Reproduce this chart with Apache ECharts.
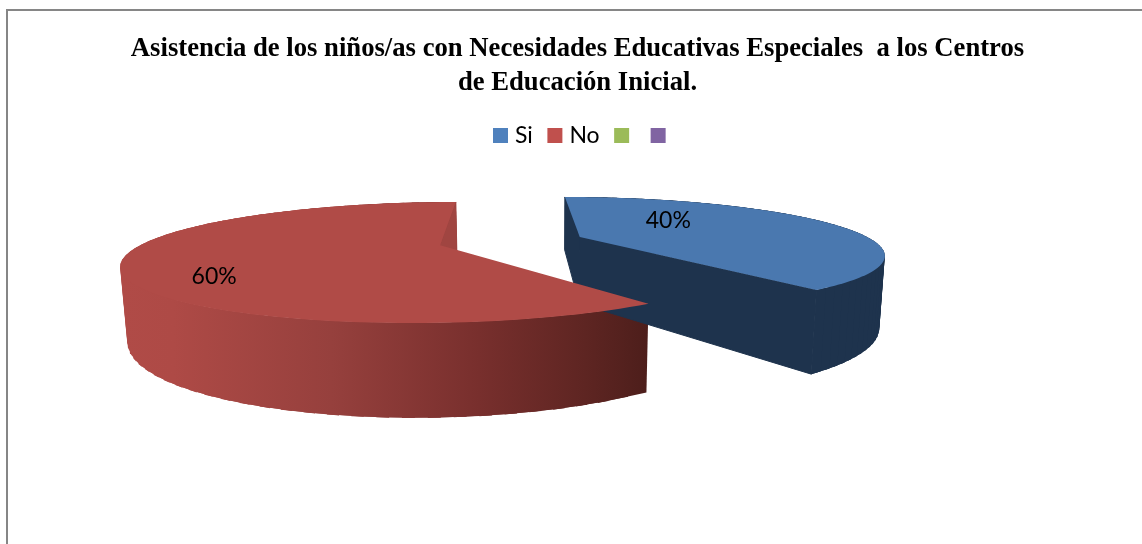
<!DOCTYPE html>
<html>
<head>
<meta charset="utf-8">
<style>html,body{margin:0;padding:0;background:#fff}#chart{width:1142px;height:544px}</style>
<script src="https://cdn.jsdelivr.net/npm/echarts@6/dist/echarts.min.js"></script>
</head>
<body>
<div id="chart"></div>
<script>
// Chart content
const chartTitle = 'Asistencia de los niños/as con Necesidades Educativas Especiales  a los Centros\nde Educación Inicial.';
const categories = ['Si', 'No', '\u200b', '\u200b\u200b'];
const values = [40, 60, 0, 0];
const valueLabels = ['40%', '60%', '', ''];

// Series styling
const legendColors = ['#4F81BD', '#C0504D', '#9BBB59', '#8064A2'];
const topColors = ['#4A78AF', '#B04B47', '#9BBB59', '#8064A2'];
const wallColors = ['#1E334D', '#A04541', '#5E7136', '#4D3C62'];
const redWallStops = [
  [0, '#B04B47'], [0.1, '#AE4A46'], [0.4, '#96403D'],
  [0.68, '#782F2D'], [0.88, '#5E2522'], [1, '#4D1E1B']
];

// Perspective projection of the pie: ground plane (u, v) plus drop h
const view = {
  cx: 511.5, cy: 241, rx: 293.5,
  depth: 0.28, vanishX: 510.5, vanishY: 51,
  drop: 0.0153, dropX: 546, dropY: 4750,
  explode: 0.25
};
// Label anchors: compass angle and radius measured from each slice's hub
const labelAngles = [45.8, 231.7];
const labelRadii = [0.5035, 0.785];

const total = values.reduce((a, b) => a + b, 0);

function project(u, v, h) {
  const w = 1 + view.depth * v + view.drop * h;
  return [
    (view.cx + view.rx * u + view.vanishX * view.depth * v + view.dropX * view.drop * h) / w,
    (view.cy + view.vanishY * view.depth * v + view.dropY * view.drop * h) / w
  ];
}

function sliceGeometry(index) {
  const before = values.slice(0, index).reduce((a, b) => a + b, 0);
  const start = before / total * 2 * Math.PI;
  const end = (before + values[index]) / total * 2 * Math.PI;
  const mid = (start + end) / 2;
  const ou = Math.sin(mid) * view.explode;
  const ov = Math.cos(mid) * view.explode;
  const rim = (a, h) => project(ou + Math.sin(a), ov + Math.cos(a), h);
  const arc = (h) => {
    const pts = [];
    const n = 120;
    for (let i = 0; i <= n; i++) pts.push(rim(start + (end - start) * i / n, h));
    return pts;
  };
  return { start, end, ou, ov, rim, arc };
}

function poly(points, fill, z, edge) {
  const style = { fill };
  if (edge) { style.stroke = fill; style.lineWidth = edge; }
  return { type: 'polygon', z2: z, shape: { points }, style };
}

function renderSlice(index) {
  return function () {
    if (!values[index]) return { type: 'group', children: [] };
    const g = sliceGeometry(index);
    const top = g.arc(0);
    const bottom = g.arc(1);
    const hub = project(g.ou, g.ov, 0);
    const hubLow = project(g.ou, g.ov, 1);
    const xs = top.map(p => p[0]);
    const sideFill = index === 1
      ? { type: 'linear', global: true, x: Math.min(...xs), y: 0, x2: Math.max(...xs), y2: 0,
          colorStops: redWallStops.map(s => ({ offset: s[0], color: s[1] })) }
      : wallColors[index];
    const children = [];
    // The curved wall is swept as overlapping quads so its silhouette runs straight
    // between the rims and no seams show between neighbouring strips
    const last = top.length - 1;
    for (let i = 0; i < last; i += 2) {
      const j = Math.min(i + 5, last);
      children.push(poly([top[i], top[j], bottom[j], bottom[i]], sideFill, 1));
    }
    // Cut face along the slice's closing edge is lit for the larger slice, dark for the other
    children.push(poly([hub, g.rim(g.end, 0), g.rim(g.end, 1), hubLow], wallColors[index], 2, 1));
    if (index === 0) {
      children.push(poly([hub, g.rim(g.start, 0), g.rim(g.start, 1), hubLow], wallColors[index], 2, 1));
    }
    children.push(poly([hub].concat(top), topColors[index], 3));
    const a = labelAngles[index] * Math.PI / 180;
    const lp = project(g.ou + Math.sin(a) * labelRadii[index], g.ov + Math.cos(a) * labelRadii[index], 0);
    children.push({
      type: 'text', z2: 4,
      style: {
        x: lp[0], y: lp[1], text: valueLabels[index], fill: '#000',
        font: '23px Lato', align: 'center', verticalAlign: 'middle'
      }
    });
    return { type: 'group', children };
  };
}

const chart = echarts.init(document.getElementById('chart'), null, { renderer: 'canvas' });
chart.setOption({
  animation: false,
  backgroundColor: '#fff',
  title: {
    text: chartTitle, left: 572.5, top: 27, textAlign: 'center',
    textStyle: { fontFamily: 'Liberation Serif', fontWeight: 'bold', fontSize: 26.67, lineHeight: 34, color: '#000' }
  },
  legend: {
    left: 493, top: 124, icon: 'rect', itemWidth: 15, itemHeight: 15, itemGap: 14.5, padding: 0,
    data: categories, selectedMode: false,
    textStyle: { fontFamily: 'Lato', fontSize: 23, color: '#000', padding: [0, 0, 0, 2] }
  },
  graphic: [{
    type: 'polyline', silent: true,
    shape: { points: [[7, 544], [7, 10], [1142, 10]] },
    style: { fill: null, stroke: '#868686', lineWidth: 2 }
  }],
  series: categories.map((name, i) => ({
    type: 'custom', name, coordinateSystem: 'none', silent: true,
    itemStyle: { color: legendColors[i] },
    data: [[values[i]]],
    renderItem: renderSlice(i)
  }))
});
</script>
</body>
</html>
